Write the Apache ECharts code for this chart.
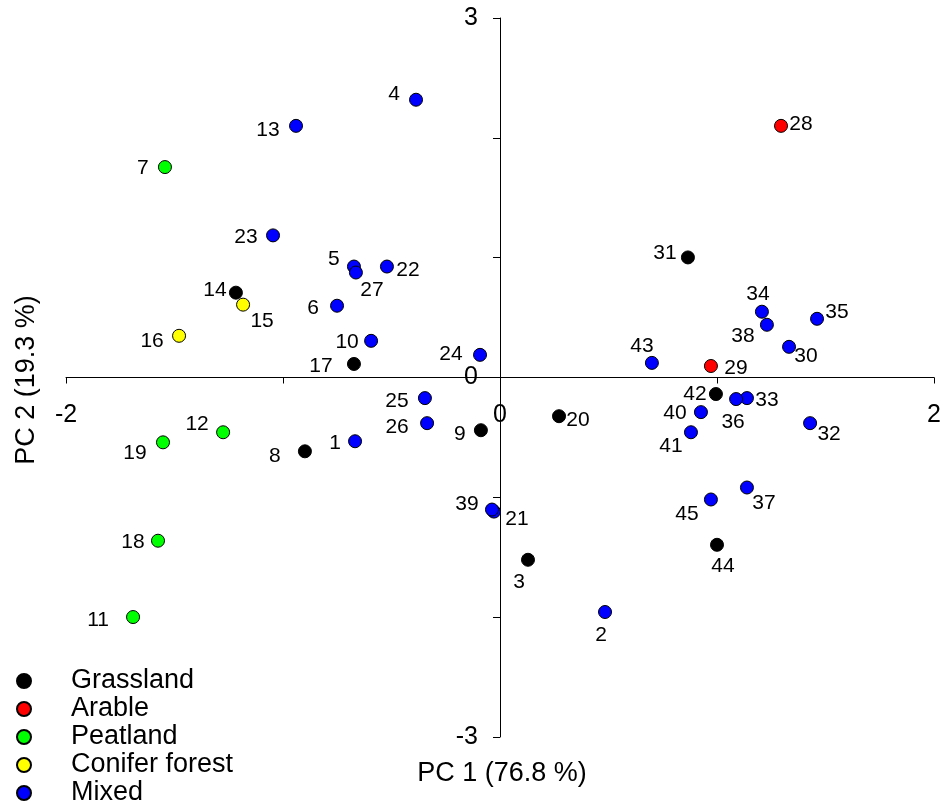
<!DOCTYPE html>
<html>
<head>
<meta charset="utf-8">
<title>PCA biplot of sampling sites by land use</title>
<script src="https://cdn.jsdelivr.net/npm/echarts@6/dist/echarts.min.js"></script>
<style>
  html, body { margin: 0; padding: 0; background: #ffffff; }
  #chart { width: 943px; height: 808px; }
</style>
</head>
<body>
<div id="chart"></div>
<script>
// Site scores on the first two principal components
const sampleIds = [1, 2, 3, 4, 5, 6, 7, 8, 9, 10,
  11, 12, 13, 14, 15, 16, 17, 18, 19, 20,
  21, 22, 23, 24, 25, 26, 27, 28, 29, 30,
  31, 32, 33, 34, 35, 36, 37, 38, 39, 40,
  41, 42, 43, 44, 45];

const pc1Scores = [-0.668, 0.484, 0.129, -0.387, -0.673, -0.751, -1.544, -0.899, -0.088, -0.594,
  -1.691, -1.276, -0.940, -1.217, -1.184, -1.479, -0.673, -1.576, -1.553, 0.272,
  -0.028, -0.521, -1.046, -0.092, -0.346, -0.336, -0.664, 1.295, 0.972, 1.332,
  0.866, 1.429, 1.138, 1.207, 1.461, 1.088, 1.138, 1.230, -0.037, 0.926,
  0.880, 0.995, 0.700, 1.000, 0.972];

const pc2Scores = [-0.532, -1.957, -1.521, 2.318, 0.926, 0.599, 1.756, -0.616, -0.440, 0.306,
  -1.999, -0.457, 2.100, 0.708, 0.608, 0.348, 0.113, -1.362, -0.541, -0.323,
  -1.119, 0.926, 1.186, 0.189, -0.172, -0.381, 0.876, 2.100, 0.096, 0.256,
  1.002, -0.381, -0.172, 0.549, 0.490, -0.180, -0.918, 0.440, -1.102, -0.289,
  -0.457, -0.138, 0.122, -1.396, -1.018];

const landUse = ['Mixed', 'Mixed', 'Grassland', 'Mixed', 'Mixed', 'Mixed', 'Peatland', 'Grassland', 'Grassland', 'Mixed',
  'Peatland', 'Peatland', 'Mixed', 'Grassland', 'Conifer forest', 'Conifer forest', 'Grassland', 'Peatland', 'Peatland', 'Grassland',
  'Mixed', 'Mixed', 'Mixed', 'Mixed', 'Mixed', 'Mixed', 'Mixed', 'Arable', 'Arable', 'Mixed',
  'Grassland', 'Mixed', 'Mixed', 'Mixed', 'Mixed', 'Mixed', 'Mixed', 'Mixed', 'Mixed', 'Mixed',
  'Mixed', 'Grassland', 'Mixed', 'Grassland', 'Mixed'];

const landUseClasses = ['Grassland', 'Arable', 'Peatland', 'Conifer forest', 'Mixed'];

// Axis tick labels (only these values are written on the axes)
const pc1TickLabels = [-2, 0, 2];
const pc2TickLabels = [-3, 0, 3];

const pc1Title = 'PC 1 (76.8 %)';
const pc2Title = 'PC 2 (19.3 %)';

// Presentation: fill colour per class and where each site number sits next to its marker
const classColors = {
  'Grassland': '#000000',
  'Arable': '#ff0000',
  'Peatland': '#00ff00',
  'Conifer forest': '#ffff00',
  'Mixed': '#0000ff'
};

const labelOffsets = {
  1: [-20, 2], 2: [-4, 23], 3: [-9, 22], 4: [-22, -6], 5: [-20, -7],
  6: [-24, 2], 7: [-22, 1], 8: [-30, 5], 9: [-21, 4], 10: [-24, 1],
  11: [-35, 3], 12: [-26, -8], 13: [-28, 4], 14: [-21, -2], 15: [19, 17],
  16: [-27, 5], 17: [-33, 2], 18: [-25, 1], 19: [-28, 11], 20: [19, 4],
  21: [23, 8], 22: [21, 4], 23: [-27, 2], 24: [-29, -1], 25: [-28, 3],
  26: [-30, 4], 27: [16, 18], 28: [20, -2], 29: [25, 2], 30: [17, 9],
  31: [-23, -4], 32: [19, 11], 33: [20, 2], 34: [-4, -18], 35: [20, -7],
  36: [-3, 23], 37: [17, 16], 38: [-24, 11], 39: [-25, -5], 40: [-26, 1],
  41: [-20, 14], 42: [-21, 0], 43: [-10, -17], 44: [6, 21], 45: [-24, 15]
};

const FONT = '"Liberation Sans", Arial, Helvetica, sans-serif';

const series = landUseClasses.map(function (cls) {
  const data = [];
  sampleIds.forEach(function (id, i) {
    if (landUse[i] !== cls) return;
    data.push({
      value: [pc1Scores[i], pc2Scores[i], id],
      label: { offset: labelOffsets[id] || [0, 0] }
    });
  });
  return {
    name: cls,
    type: 'scatter',
    symbol: 'circle',
    symbolSize: 13,
    itemStyle: {
      color: classColors[cls],
      borderColor: '#000000',
      borderWidth: 1,
      opacity: 1
    },
    label: {
      show: true,
      position: 'inside',
      align: 'center',
      verticalAlign: 'middle',
      color: '#000000',
      fontFamily: FONT,
      fontSize: 21,
      formatter: function (p) { return String(p.value[2]); }
    },
    emphasis: { disabled: true },
    data: data
  };
});

const chart = echarts.init(document.getElementById('chart'), null, { renderer: 'canvas' });

chart.setOption({
  animation: false,
  backgroundColor: '#ffffff',
  grid: { left: 66, right: 9, top: 18, bottom: 71, containLabel: false },
  xAxis: {
    type: 'value',
    min: -2,
    max: 2,
    interval: 1,
    splitLine: { show: false },
    axisLine: { show: true, onZero: true, lineStyle: { color: '#000000', width: 1 } },
    axisTick: { show: true, inside: false, length: 6, lineStyle: { color: '#000000', width: 1 } },
    axisLabel: { show: false }
  },
  yAxis: {
    type: 'value',
    min: -3,
    max: 3,
    interval: 1,
    splitLine: { show: false },
    axisLine: { show: true, onZero: true, lineStyle: { color: '#000000', width: 1 } },
    axisTick: { show: true, inside: false, length: 7, lineStyle: { color: '#000000', width: 1 } },
    axisLabel: { show: false }
  },
  legend: {
    show: true,
    orient: 'vertical',
    left: 16,
    top: 667,
    padding: 0,
    itemWidth: 14,
    itemHeight: 14,
    itemGap: 0,
    icon: 'circle',
    selectedMode: false,
    data: landUseClasses,
    textStyle: {
      color: '#000000',
      fontFamily: FONT,
      fontSize: 27,
      lineHeight: 28,
      padding: [0, 0, 0, 35]
    }
  },
  series: series
});

// Tick labels and axis titles, placed through the axes' own scales so they sit
// next to the crossing axis lines rather than at the plot edges.
function placeAxisText() {
  const x0 = chart.convertToPixel({ xAxisIndex: 0 }, 0);
  const y0 = chart.convertToPixel({ yAxisIndex: 0 }, 0);
  const elements = [];

  pc1TickLabels.forEach(function (v) {
    elements.push({
      type: 'text',
      x: chart.convertToPixel({ xAxisIndex: 0 }, v),
      y: y0 + 38,
      style: {
        text: String(v),
        fill: '#000000',
        font: '25px ' + FONT,
        align: 'center',
        verticalAlign: 'middle'
      }
    });
  });

  pc2TickLabels.forEach(function (v) {
    elements.push({
      type: 'text',
      x: x0 - 22,
      y: chart.convertToPixel({ yAxisIndex: 0 }, v),
      style: {
        text: String(v),
        fill: '#000000',
        font: '25px ' + FONT,
        align: 'right',
        verticalAlign: 'middle'
      }
    });
  });

  elements.push({
    type: 'text',
    x: x0 + 2,
    y: 774,
    style: {
      text: pc1Title,
      fill: '#000000',
      font: '27px ' + FONT,
      align: 'center',
      verticalAlign: 'middle'
    }
  });

  elements.push({
    type: 'text',
    x: 27,
    y: 380,
    rotation: Math.PI / 2,
    style: {
      text: pc2Title,
      fill: '#000000',
      font: '27px ' + FONT,
      align: 'center',
      verticalAlign: 'middle'
    }
  });

  chart.setOption({ graphic: elements });
}

placeAxisText();
</script>
</body>
</html>
